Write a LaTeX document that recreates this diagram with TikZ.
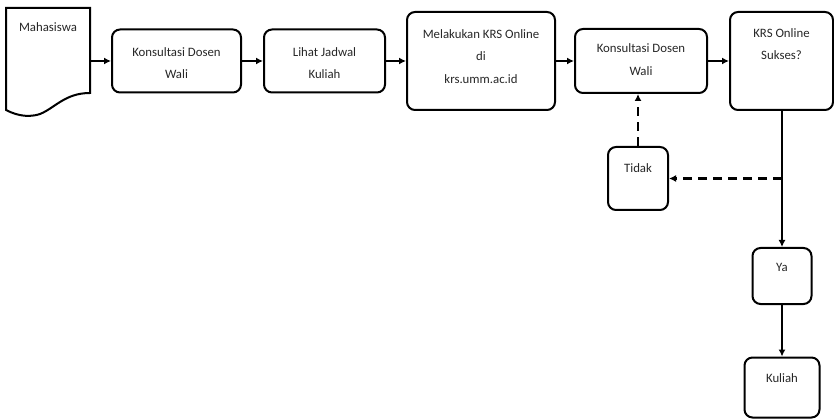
\documentclass[tikz,border=0pt]{standalone}
\usepackage{fontspec}
\setmainfont{Carlito}
\usetikzlibrary{arrows.meta}
\begin{document}
\begin{tikzpicture}[x=1pt,y=-1pt,
  box/.style={draw, line width=2pt, rounded corners=8pt, inner sep=0pt},
  txt/.style={font=\fontsize{12.8}{22.5}\selectfont, text=black!85, align=center, inner sep=0pt, anchor=north},
  arr/.style={line width=1.8pt, -{Latex[length=7pt,width=7pt]}},
  thin/.style={line width=1.3pt, -{Latex[length=7pt,width=7pt]}},
  dsh/.style={line width=2.2pt, dash pattern=on 9pt off 6pt, -{Latex[length=7pt,width=7pt]}}]
\useasboundingbox (0,0) rectangle (834,419);
% document shape
\draw[line width=2pt, line join=miter] (6,8) -- (90,8) -- (90,93)
  .. controls (65,93) and (55,108) .. (40,114)
  .. controls (25,119) and (12,113) .. (6,110) -- cycle;
\coordinate (doc) at (90,61);
\node[txt] (tdoc) at (48,22) {Mahasiswa};
% boxes
\node[box, minimum width=129pt, minimum height=63pt] (b1) at (176.5,61) {};
\node[box, minimum width=121pt, minimum height=63pt] (b2) at (324.5,61) {};
\node[box, minimum width=148pt, minimum height=98pt] (b3) at (481,61) {};
\node[box, minimum width=132pt, minimum height=64pt] (b4) at (641,61) {};
\node[box, minimum width=103pt, minimum height=98pt] (b5) at (781.5,61) {};
\node[box, minimum width=60pt, minimum height=63pt] (t) at (638,178.5) {};
\node[box, minimum width=59pt, minimum height=56pt] (ya) at (782,276) {};
\node[box, minimum width=75pt, minimum height=60pt] (ku) at (782,387.5) {};
% texts
\node[txt] (t1) at (176.5,47) {Konsultasi Dosen\\Wali};
\node[txt] (t2) at (324.5,47) {Lihat Jadwal\\Kuliah};
\node[txt] (t3) at (481,29) {Melakukan KRS Online\\di\\krs.umm.ac.id};
\node[txt] (t4) at (641,43.5) {Konsultasi Dosen\\Wali};
\node[txt] (t5) at (781.5,28) {KRS Online\\Sukses?};
\node[txt] (tt) at (638,163) {Tidak};
\node[txt] (tya) at (782,263) {Ya};
\node[txt] (tku) at (782,373) {Kuliah};
% connectors
\draw[arr] (doc) -- (b1.west);
\draw[arr] (b1) -- (b2);
\draw[arr] (b2) -- (b3);
\draw[arr] (b3) -- (b4);
\draw[arr] (b4) -- (b5);
\coordinate (br) at (ya.north |- t.east);
\draw[thin] (ya.north |- b5.south) -- (ya.north);
\draw[dsh] (br) -- (t.east);
\draw[dsh] (t.north) -- (t.north |- b4.south);
\draw[thin] (ya) -- (ku);
\end{tikzpicture}
\end{document}
